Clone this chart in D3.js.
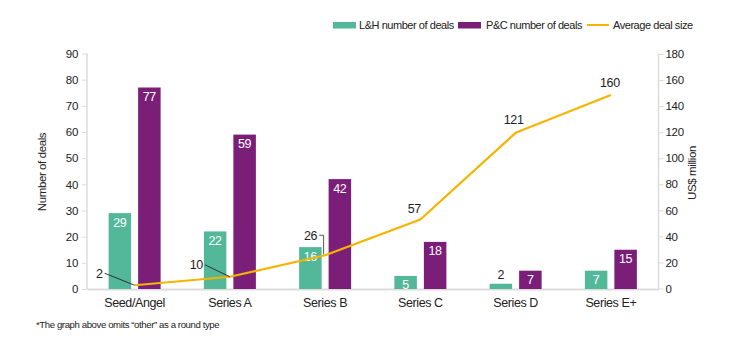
<!DOCTYPE html>
<html>
<head>
<meta charset="utf-8">
<script src="https://cdn.jsdelivr.net/npm/d3@7"></script>
<style>
  html, body { margin: 0; padding: 0; background: #fff; }
  svg { display: block; font-family: "Liberation Sans", Arial, Helvetica, sans-serif; }
</style>
</head>
<body>
<svg id="chart" width="744" height="344"></svg>
<script>
// ---- Data ----
const categories = ["Seed/Angel", "Series A", "Series B", "Series C", "Series D", "Series E+"];
const lhDeals = [29, 22, 16, 5, 2, 7];
const pcDeals = [77, 59, 42, 18, 7, 15];
const avgDealLabels = [2, 10, 26, 57, 121, 160];          // printed labels
const avgDealPlotted = [2.5, 9, 25.5, 53, 119.5, 148.5];    // line as drawn in picture
const leftTicks = [0, 10, 20, 30, 40, 50, 60, 70, 80, 90];
const rightTicks = [0, 20, 40, 60, 80, 100, 120, 140, 160, 180];
const seriesNames = ["L&H number of deals", "P&C number of deals", "Average deal size"];

// ---- Style ----
const colLH = "#53b899", colPC = "#7a1e78", colLine = "#f6b300";
const axisCol = "#dcdcdc", textCol = "#222";

const svg = d3.select("#chart");
const pLeft = 87, pRight = 658.5, pTop = 53.5, pBottom = 289;

const x = d3.scaleBand().domain(categories).range([pLeft, pRight]);
const yL = d3.scaleLinear().domain([0, 90]).range([pBottom, pTop]);
const yR = d3.scaleLinear().domain([0, 180]).range([pBottom - 0.5, pTop + 0.5]);

const barW = 22.5, gap = 7;
const cx = c => x(c) + x.bandwidth() / 2;

// axes
const gL = svg.append("g").attr("transform", `translate(${pLeft},0)`)
  .call(d3.axisLeft(yL).tickValues(leftTicks).tickSize(5).tickPadding(4));
const gR = svg.append("g").attr("transform", `translate(${pRight},0)`)
  .call(d3.axisRight(yR).tickValues(rightTicks).tickSize(5).tickPadding(2));
[gL, gR].forEach(g => {
  g.select(".domain").attr("stroke", axisCol).attr("stroke-width", 1.5);
  g.selectAll(".tick line").attr("stroke", axisCol);
  g.selectAll(".tick text").attr("fill", textCol).attr("font-size", 11.5)
    .attr("font-family", "Liberation Sans, Arial, sans-serif").style("letter-spacing", "-0.3px");
});
gL.select(".domain").attr("d", `M0,${pTop}V${pBottom}`);
gR.select(".domain").attr("d", `M0,${pTop}V${pBottom}`);

// baseline
const gX = svg.append("g").attr("transform", `translate(0,${pBottom})`)
  .call(d3.axisBottom(x).tickSize(0).tickPadding(9));
gX.select(".domain").attr("stroke", axisCol).attr("stroke-width", 2);
gX.selectAll(".tick text").attr("fill", textCol).attr("font-size", 12.5)
  .attr("font-family", "Liberation Sans, Arial, sans-serif").style("letter-spacing", "-0.4px");

// axis titles
svg.append("text").attr("transform", `translate(46,172) rotate(-90)`)
  .attr("text-anchor", "middle").attr("font-size", 11.5).attr("fill", textCol)
  .style("letter-spacing", "-0.4px").text("Number of deals");
svg.append("text").attr("transform", `translate(696,173) rotate(-90)`)
  .attr("text-anchor", "middle").attr("font-size", 11.5).attr("fill", textCol)
  .style("letter-spacing", "-0.4px").text("US$ million");

// bars
const bars = svg.append("g");
categories.forEach((c, i) => {
  const xl = cx(c) - gap / 2 - barW, xp = cx(c) + gap / 2;
  bars.append("rect").attr("x", xl).attr("y", yL(lhDeals[i])).attr("width", barW)
    .attr("height", pBottom - yL(lhDeals[i])).attr("fill", colLH);
  bars.append("rect").attr("x", xp).attr("y", yL(pcDeals[i])).attr("width", barW)
    .attr("height", pBottom - yL(pcDeals[i])).attr("fill", colPC);
  const inside = (pBottom - yL(lhDeals[i])) > 10;
  bars.append("text").attr("x", xl + barW / 2)
    .attr("y", inside ? yL(lhDeals[i]) + 13.5 : yL(lhDeals[i]) - 5)
    .attr("text-anchor", "middle").attr("font-size", 12.5)
    .attr("fill", inside ? "#fff" : textCol).style("letter-spacing", "-0.4px").text(lhDeals[i]);
  bars.append("text").attr("x", xp + barW / 2).attr("y", yL(pcDeals[i]) + 13.5)
    .attr("text-anchor", "middle").attr("font-size", 12.5)
    .attr("fill", "#fff").style("letter-spacing", "-0.4px").text(pcDeals[i]);
});

// line
const pts = categories.map((c, i) => [cx(c), yR(avgDealPlotted[i])]);
svg.append("path").attr("d", d3.line()(pts)).attr("fill", "none")
  .attr("stroke", colLine).attr("stroke-width", 2.2).attr("stroke-linejoin", "round");

// line labels with leaders
const lbl = svg.append("g").attr("font-size", 12.5).attr("fill", textCol).style("letter-spacing", "-0.4px");
[[0, -30, -12], [1, -25, -12]].forEach(([i, dx, dy]) => {
  const [px, py] = pts[i];
  lbl.append("text").attr("x", px + dx - 2).attr("y", py + dy + 4.5).attr("text-anchor", "end").text(avgDealLabels[i]);
  lbl.append("line").attr("x1", px + dx).attr("y1", py + dy).attr("x2", px).attr("y2", py)
    .attr("stroke", "#222").attr("stroke-width", 0.9);
});
{
  const [px, py] = pts[2];
  const ly = py - 20;
  lbl.append("text").attr("x", px - 8).attr("y", ly + 4.5).attr("text-anchor", "end").text(avgDealLabels[2]);
  lbl.append("path").attr("d", `M${px - 6},${ly}H${px - 1.5}V${py - 1}`).attr("fill", "none")
    .attr("stroke", "#555").attr("stroke-width", 1);
}
[[3, -6, -6], [4, -2, -9], [5, -1, -8]].forEach(([i, dx, dy]) => {
  const [px, py] = pts[i];
  lbl.append("text").attr("x", px + dx).attr("y", py + dy).attr("text-anchor", "middle").text(avgDealLabels[i]);
});

// legend
const leg = svg.append("g").attr("font-size", 11).attr("fill", textCol).style("letter-spacing", "-0.45px");
leg.append("rect").attr("x", 333).attr("y", 22).attr("width", 23).attr("height", 6.5).attr("fill", colLH);
leg.append("text").attr("x", 359).attr("y", 29).text(seriesNames[0]);
leg.append("rect").attr("x", 458).attr("y", 22).attr("width", 23).attr("height", 6.5).attr("fill", colPC);
leg.append("text").attr("x", 486).attr("y", 29).text(seriesNames[1]);
leg.append("line").attr("x1", 587).attr("x2", 609).attr("y1", 25).attr("y2", 25)
  .attr("stroke", colLine).attr("stroke-width", 2);
leg.append("text").attr("x", 613).attr("y", 29).text(seriesNames[2]);

// footnote
svg.append("text").attr("x", 36).attr("y", 327.5).attr("font-size", 9.6).attr("fill", textCol)
  .style("letter-spacing", "-0.4px").text("*The graph above omits \u201cother\u201d as a round type");
</script>
</body>
</html>
